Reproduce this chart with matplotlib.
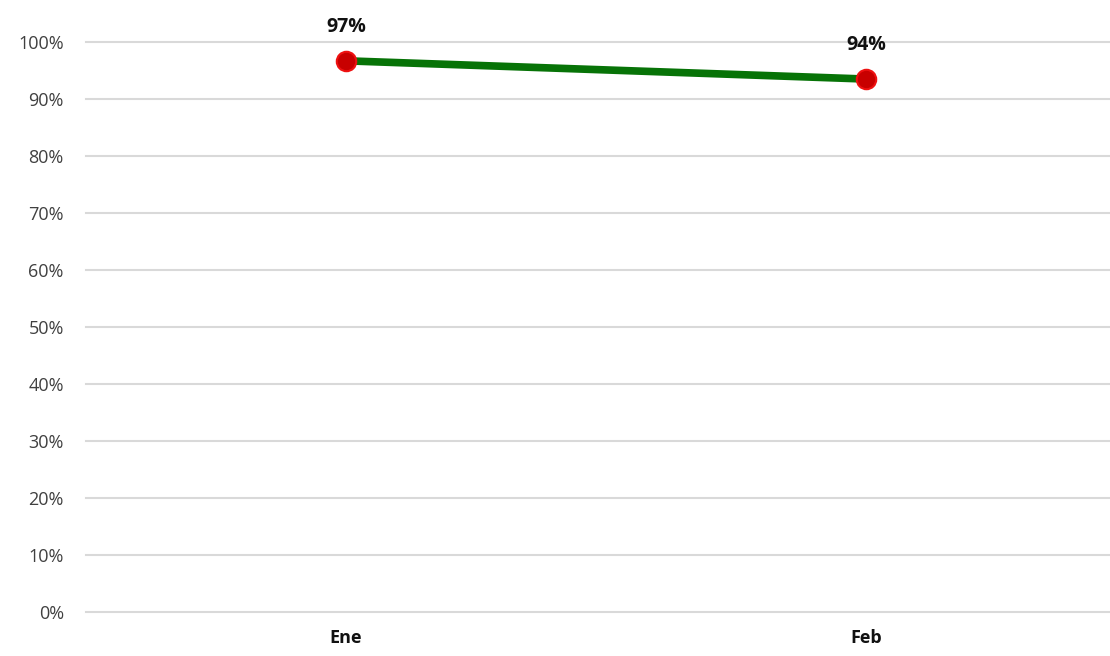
import matplotlib
matplotlib.use('Agg')
import matplotlib.pyplot as plt
from matplotlib.ticker import PercentFormatter, MultipleLocator

plt.rcParams['font.family'] = ['Open Sans', 'DejaVu Sans']

months = ['Ene', 'Feb']
values = [0.967, 0.935]
labels = ['97%', '94%']

fig = plt.figure(figsize=(11.1, 6.56), dpi=100)
ax = fig.add_axes([86 / 1110, 44 / 656, 1 - 86 / 1110, 570 / 656])

x = list(range(len(months)))
ax.plot(x, values, '-', color='#077307', lw=5.5, solid_capstyle='butt', zorder=3)
ax.plot(x, values, 'o', color='#c80000', mec='#ee1111', mew=1.5, ms=14, zorder=4)
for xi, v, lab in zip(x, values, labels):
    ax.annotate(lab, (xi, v), textcoords='offset points', xytext=(0, 17),
                ha='center', va='bottom', fontsize=14, fontweight='bold',
                color='#111111', annotation_clip=False)

ax.set_xlim(-0.5, -0.5 + 1024 / 520)
ax.set_ylim(0, 1.0)
ax.yaxis.set_major_locator(MultipleLocator(0.1))
ax.yaxis.set_major_formatter(PercentFormatter(1.0, decimals=0))
ax.set_xticks(x)
ax.set_xticklabels(months, fontweight='bold', fontsize=13)
ax.tick_params(axis='both', length=0, labelsize=13, labelcolor='#404040')
ax.tick_params(axis='x', pad=12, labelcolor='#111111')
ax.tick_params(axis='y', pad=16)
ax.grid(True, axis='y', color='#d9d9d9', lw=1.5)
for gl in ax.get_ygridlines():
    gl.set_clip_on(False)
ax.set_axisbelow(True)
for s in ax.spines.values():
    s.set_visible(False)

fig.savefig('out.png', dpi=100)
